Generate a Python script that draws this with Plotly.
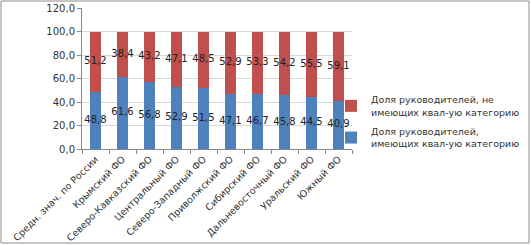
import plotly.graph_objects as go

categories = ["Средн. знач. по России", "Крымский ФО", "Северо-Кавказский ФО", "Центральный ФО",
              "Северо-Западный ФО", "Приволжский ФО", "Сибирский ФО", "Дальневосточный ФО",
              "Уральский ФО", "Южный ФО"]
with_cat = [48.8, 61.6, 56.8, 52.9, 51.5, 47.1, 46.7, 45.8, 44.5, 40.9]
without_cat = [51.2, 38.4, 43.2, 47.1, 48.5, 52.9, 53.3, 54.2, 55.5, 59.1]
name_without = "Доля руководителей, не<br>имеющих квал-ую категорию"
name_with = "Доля руководителей,<br>имеющих квал-ую категорию"
y_ticks = [0, 20, 40, 60, 80, 100, 120]

BLUE = "#4F81BD"
RED = "#C0504D"
FONT = "DejaVu Sans"

fig = go.Figure()
fig.add_trace(go.Bar(x=categories, y=with_cat, name=name_with, marker_color=BLUE,
                     marker_line_width=0, legendrank=2, legendgroup="b"))
fig.add_trace(go.Bar(x=categories, y=without_cat, name=name_without, marker_color=RED,
                     marker_line_width=0, legendrank=1, legendgroup="a"))
# data labels centred in each segment
fig.add_trace(go.Scatter(x=categories, y=[v / 2 for v in with_cat], mode="text",
                         text=[f"{v:.1f}".replace(".", ",") for v in with_cat],
                         textfont=dict(family=FONT, size=10, color="#222"),
                         showlegend=False, hoverinfo="skip"))
fig.add_trace(go.Scatter(x=categories, y=[a + b / 2 for a, b in zip(with_cat, without_cat)], mode="text",
                         text=[f"{v:.1f}".replace(".", ",") for v in without_cat],
                         textfont=dict(family=FONT, size=10, color="#222"),
                         showlegend=False, hoverinfo="skip"))

W, H = 531, 245
L, R, T, B = 82, 352, 8, 149
pw, ph = R - L, B - T

fig.update_layout(
    width=W, height=H,
    margin=dict(l=L, r=W - R, t=T, b=H - B, pad=0, autoexpand=False),
    barmode="stack", bargap=0.6,
    separators=", ",
    plot_bgcolor="white", paper_bgcolor="white",
    font=dict(family=FONT, size=10, color="#333"),
    legend=dict(x=(331 - L) / pw, xanchor="left", y=(B - 122) / ph, yanchor="middle",
                traceorder="grouped",
                font=dict(family=FONT, size=9.5, color="#333"), tracegroupgap=4,
                itemwidth=30, bgcolor="rgba(0,0,0,0)"),
    xaxis=dict(tickangle=-45, showgrid=False, showline=True, linecolor="#868686",
               ticks="outside", tickson="boundaries", ticklen=4, tickcolor="#868686",
               automargin=False,
               tickfont=dict(family=FONT, size=9.5, color="#333")),
    yaxis=dict(range=[0, 120], tickvals=y_ticks, tickformat=".1f", showgrid=True,
               gridcolor="#D9D9D9", showline=True, linecolor="#868686", ticks="outside",
               ticklen=4, tickcolor="#868686", zeroline=False, automargin=False,
               tickfont=dict(family=FONT, size=10, color="#333")),
    shapes=[dict(type="rect", xref="paper", yref="paper",
                 x0=(1 - L) / pw, x1=(529 - L) / pw, y0=(B - 243) / ph, y1=(B - 1) / ph,
                 line=dict(color="#8C8C8C", width=1), fillcolor="rgba(0,0,0,0)", layer="below")],
)

fig.write_html("out.html", config={"displayModeBar": False},
               post_script="document.body.style.margin='0';document.body.style.overflow='hidden';")
